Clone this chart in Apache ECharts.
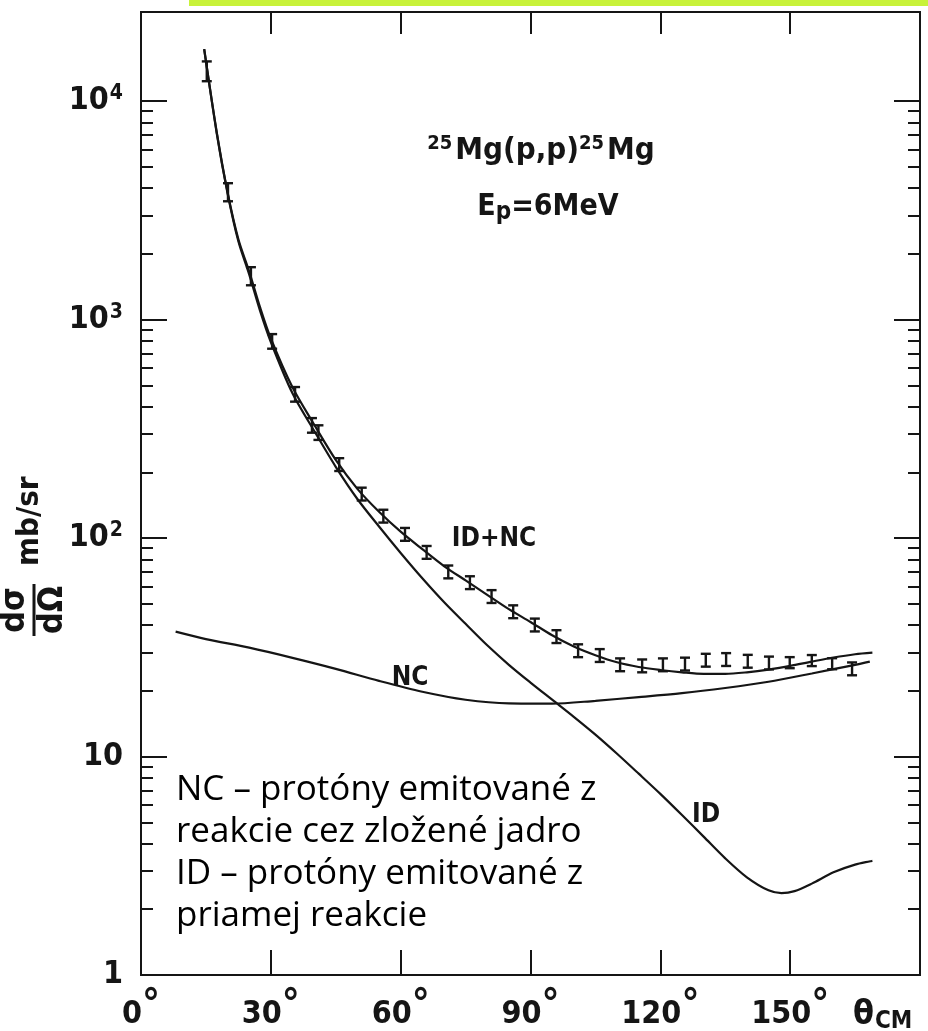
<!DOCTYPE html>
<html>
<head>
<meta charset="utf-8">
<script src="https://cdn.jsdelivr.net/npm/echarts@6/dist/echarts.min.js"></script>
<style>html,body{margin:0;padding:0;background:#fff}#c{width:928px;height:1031px}</style>
</head>
<body>
<div id="c"></div>
<script>
// ---- data ----
const fitAngles = [14.6, 17.5, 20, 22.5, 25, 27.5, 30, 35, 40, 45, 50, 55, 60, 65, 70, 75, 80, 85, 90, 95, 100, 105, 110, 115, 120, 125, 130, 135, 140, 145, 150, 155, 160, 165, 169];
const fitValues = [17300, 7210, 3830, 2330, 1660, 1140, 820, 490, 331, 228, 168, 132, 107, 89, 74.5, 64, 55, 47.3, 41.3, 35.9, 31.9, 29.1, 27.0, 25.7, 24.9, 24.3, 23.9, 23.9, 24.3, 25.0, 26.0, 27.2, 28.4, 29.4, 29.9];

const idAngles = [14.6, 17.5, 20, 22.5, 25, 27.5, 30, 35, 40, 45, 50, 55, 60, 65, 70, 75, 80, 85, 90, 95, 100, 105, 110, 115, 120, 125, 130, 135, 140, 145, 148, 151, 155, 160, 165, 169];
const idValues = [17300, 7135, 3790, 2283, 1610, 1100, 790, 460, 310, 212, 151, 113, 85.5, 65.5, 51, 40.5, 32.3, 26.3, 21.8, 18.2, 15.2, 12.6, 10.3, 8.35, 6.75, 5.4, 4.3, 3.42, 2.80, 2.44, 2.37, 2.42, 2.62, 2.95, 3.20, 3.33];

const ncAngles = [8, 15, 25, 35, 45, 55, 65, 75, 85, 95, 105, 115, 125, 135, 145, 155, 165, 168.4];
const ncValues = [37.3, 34.5, 31.5, 28.3, 25.2, 22.2, 19.8, 18.2, 17.5, 17.45, 18.0, 18.7, 19.5, 20.6, 22.0, 24.0, 26.3, 27.2];

const expAngles = [15.2, 20.1, 25.4, 30.3, 35.6, 39.5, 41.0, 45.8, 51, 56, 61, 66, 71, 76, 81, 86, 91, 96, 101, 106, 110.7, 115.8, 120.6, 125.7, 130.5, 135.2, 140.2, 145.1, 149.9, 155.0, 159.7, 164.3];
const expValues = [13700, 3830, 1580, 795, 455, 328, 304, 217, 159, 126, 104, 86, 70, 62.5, 54, 46, 40, 35.4, 30.5, 29, 26.3, 26.0, 26.3, 26.5, 27.6, 27.8, 27.3, 26.8, 26.9, 27.5, 26.6, 25.2];
const expErrPct = [11, 10, 10, 8, 8, 8, 8, 7, 7, 7, 7, 7, 7, 7, 7, 7, 7, 7, 7, 7, 7, 7, 7, 7, 7, 7, 7, 7, 6, 6, 6, 7];

const yMajorTicks = [1, 10, 100, 1000, 10000];
const xTickLabels = [0, 30, 60, 90, 120, 150];
const annotationLines = ['NC – protóny emitované z', 'reakcie cez zložené jadro', 'ID – protóny emitované z', 'priamej reakcie'];

// ---- chart ----
const INK = '#151515';
const NUM_FONT = "'Liberation Sans Narrow','DejaVu Sans Condensed',sans-serif";
const TXT_FONT = "'DejaVu Sans Condensed','DejaVu Sans',sans-serif";
const Y_MAX = 25600;
const yMinorTicks = [];
[1, 10, 100, 1000].forEach(d => { for (let k = 2; k <= 9; k++) yMinorTicks.push(k * d); });

const pairs = (a, b) => a.map((x, i) => [x, b[i]]);

function yAxisDef(pos, ticks, len, labels) {
  return {
    type: 'log', logBase: 10, min: 1, max: Y_MAX, position: pos,
    axisLine: { show: true, lineStyle: { color: INK, width: 2 } },
    axisTick: { show: true, inside: true, length: len, customValues: ticks, lineStyle: { color: INK, width: 2 } },
    axisLabel: labels ? {
      show: true, margin: 18, customValues: ticks,
      formatter: v => {
        const e = Math.round(Math.log10(v));
        if (e === 0) return '{n|1}';
        if (e === 1) return '{n|10}';
        return '{n|10}{s|' + e + '}';
      },
      rich: {
        n: { fontFamily: NUM_FONT, fontWeight: 'bold', fontSize: 32, color: INK },
        s: { fontFamily: NUM_FONT, fontWeight: 'bold', fontSize: 21, color: INK, padding: [0, 0, 15, 1] }
      }
    } : { show: false },
    splitLine: { show: false }, minorTick: { show: false }, minorSplitLine: { show: false }
  };
}

const option = {
  backgroundColor: '#ffffff',
  animation: false,
  grid: { left: 141, right: 8, top: 12, bottom: 56, containLabel: false },
  xAxis: [
    {
      type: 'value', min: 0, max: 180, interval: 30, position: 'bottom',
      axisLine: { show: true, lineStyle: { color: INK, width: 2 } },
      axisTick: { show: true, inside: true, length: 25, lineStyle: { color: INK, width: 2 } },
      axisLabel: {
        margin: 12,
        formatter: v => (xTickLabels.indexOf(v) >= 0 ? '{n|' + v + '}{d|°}' : ''),
        rich: {
          n: { fontFamily: NUM_FONT, fontWeight: 'bold', fontSize: 32, color: INK },
          d: { fontFamily: NUM_FONT, fontWeight: 'bold', fontSize: 40, color: INK, padding: [0, 0, 16, 0] }
        }
      },
      splitLine: { show: false }
    },
    {
      type: 'value', min: 0, max: 180, interval: 30, position: 'top',
      axisLine: { show: true, lineStyle: { color: INK, width: 2 } },
      axisTick: { show: true, inside: true, length: 22, lineStyle: { color: INK, width: 2 } },
      axisLabel: { show: false }, splitLine: { show: false }
    }
  ],
  yAxis: [
    yAxisDef('left', yMajorTicks, 26, true),
    yAxisDef('left', yMinorTicks, 12, false),
    yAxisDef('right', yMajorTicks, 26, false),
    yAxisDef('right', yMinorTicks, 12, false)
  ],
  series: [
    { name: 'ID+NC', type: 'line', data: pairs(fitAngles, fitValues), showSymbol: false, smooth: 0.3,
      lineStyle: { color: INK, width: 2.2 }, z: 3 },
    { name: 'ID', type: 'line', data: pairs(idAngles, idValues), showSymbol: false, smooth: 0.3,
      lineStyle: { color: INK, width: 2.2 }, z: 3 },
    { name: 'NC', type: 'line', data: pairs(ncAngles, ncValues), showSymbol: false, smooth: 0.3,
      lineStyle: { color: INK, width: 2.2 }, z: 3 },
    { name: 'exp', type: 'custom', z: 4,
      data: expAngles.map((a, i) => [a, expValues[i], expErrPct[i]]),
      encode: { x: 0, y: 1 },
      renderItem: (params, api) => {
        const x = api.value(0), v = api.value(1), e = api.value(2) / 100;
        const top = api.coord([x, v * (1 + e)]);
        const bot = api.coord([x, v / (1 + e)]);
        const cw = 5;
        const st = { stroke: INK, lineWidth: 2.4 };
        return { type: 'group', children: [
          { type: 'line', shape: { x1: top[0], y1: top[1], x2: bot[0], y2: bot[1] }, style: st },
          { type: 'line', shape: { x1: top[0] - cw, y1: top[1], x2: top[0] + cw, y2: top[1] }, style: st },
          { type: 'line', shape: { x1: bot[0] - cw, y1: bot[1], x2: bot[0] + cw, y2: bot[1] }, style: st }
        ] };
      }
    }
  ],
  graphic: [
    { type: 'rect', shape: { x: 189, y: 0, width: 739, height: 6 }, style: { fill: '#c8f23a' } },
    { type: 'text', x: 541, y: 151, style: {
        text: '{s|25}{m|Mg(p,p)}{s|25}{m|Mg}', align: 'center', verticalAlign: 'middle',
        rich: { m: { fontFamily: TXT_FONT, fontWeight: 'bold', fontSize: 31, fill: INK },
                s: { fontFamily: TXT_FONT, fontWeight: 'bold', fontSize: 20, fill: INK, padding: [0, 3, 15, 0] } } } },
    { type: 'text', x: 548, y: 207, style: {
        text: '{m|E}{b|p}{m|=6MeV}', align: 'center', verticalAlign: 'middle',
        rich: { m: { fontFamily: TXT_FONT, fontWeight: 'bold', fontSize: 30, fill: INK },
                b: { fontFamily: TXT_FONT, fontWeight: 'bold', fontSize: 24, fill: INK, padding: [11, 0, 0, 0] } } } },
    { type: 'text', x: 494, y: 539, style: { text: 'ID+NC', font: 'bold 26px ' + TXT_FONT, fill: INK, align: 'center', verticalAlign: 'middle' } },
    { type: 'text', x: 410, y: 678, style: { text: 'NC', font: 'bold 26px ' + TXT_FONT, fill: INK, align: 'center', verticalAlign: 'middle' } },
    { type: 'text', x: 706, y: 815, style: { text: 'ID', font: 'bold 26px ' + TXT_FONT, fill: INK, align: 'center', verticalAlign: 'middle' } },
    { type: 'text', x: 853, y: 1015, style: {
        text: '{t|θ}{c|CM}', align: 'left', verticalAlign: 'middle',
        rich: { t: { fontFamily: TXT_FONT, fontWeight: 'bold', fontSize: 34, fill: INK },
                c: { fontFamily: TXT_FONT, fontWeight: 'bold', fontSize: 24, fill: INK, padding: [14, 0, 0, 1] } } } },
    { type: 'group', x: 34, y: 610, rotation: Math.PI / 2, children: [
        { type: 'text', x: 0, y: -2, style: { text: 'dσ', font: 'bold 34px ' + TXT_FONT, fill: INK, align: 'center', verticalAlign: 'bottom' } },
        { type: 'line', shape: { x1: -26, y1: 0, x2: 26, y2: 0 }, style: { stroke: INK, lineWidth: 3 } },
        { type: 'text', x: 0, y: 2, style: { text: 'dΩ', font: 'bold 34px ' + TXT_FONT, fill: INK, align: 'center', verticalAlign: 'top' } },
        { type: 'text', x: 44, y: -4, style: { text: 'mb/sr', font: 'bold 31px ' + TXT_FONT, fill: INK, align: 'left', verticalAlign: 'middle' } }
    ] }
  ].concat(annotationLines.map((t, i) => ({
    type: 'text', x: 176, y: 790 + i * 42,
    style: { text: t, font: '35px "Open Sans"', fill: '#000', align: 'left', verticalAlign: 'middle' }
  })))
};

const chart = echarts.init(document.getElementById('c'));
chart.setOption(option);
</script>
</body>
</html>
